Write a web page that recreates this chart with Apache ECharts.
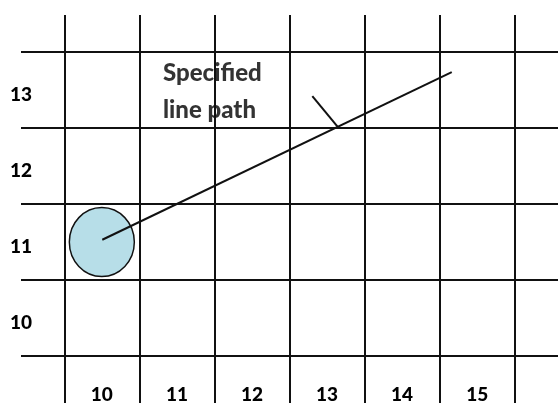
<!DOCTYPE html>
<html>
<head>
<meta charset="utf-8">
<script src="https://cdn.jsdelivr.net/npm/echarts@6/dist/echarts.min.js"></script>
<style>
html,body{margin:0;padding:0;background:#fff;}
#chart{width:558px;height:404px;}
</style>
</head>
<body>
<div id="chart"></div>
<script>
// ---- data ----
const xTickLabels = [10, 11, 12, 13, 14, 15];
const yTickLabels = [10, 11, 12, 13];
const gridLinesX = [9.5, 10.5, 11.5, 12.5, 13.5, 14.5, 15.5];
const gridLinesY = [9.5, 10.5, 11.5, 12.5, 13.5];
const circlePoint = [10, 11];
const pathLine = [[10.006, 11.03], [14.661, 13.234]];
const pointerLine = [[12.804, 12.919], [13.137, 12.52]];
const noteText = 'Specified\nline path';
const notePoint = [10.815, 12.97];

const chart = echarts.init(document.getElementById('chart'), null, {renderer: 'canvas'});
const black = '#111';
const font = {fontFamily: 'Lato', fontWeight: 900, color: '#000'};

const option = {
  animation: false,
  backgroundColor: '#fff',
  grid: {left: 21, top: 15, right: 0, bottom: 0, containLabel: false},
  xAxis: {
    type: 'value', min: 8.9232, max: 16.0765,
    axisLine: {show: false}, axisTick: {show: false}, splitLine: {show: false},
    axisLabel: Object.assign({customValues: xTickLabels, inside: true, margin: 0, verticalAlign: 'bottom', lineHeight: 17, fontSize: 19}, font)
  },
  yAxis: {
    type: 'value', min: 8.8836, max: 13.9852,
    axisLine: {show: false}, axisTick: {show: false}, splitLine: {show: false},
    axisLabel: Object.assign({customValues: yTickLabels, margin: 0, align: 'center', verticalAlign: 'top', lineHeight: 9, fontSize: 19}, font)
  },
  series: [
    {
      type: 'scatter', z: 1, silent: true,
      data: [notePoint], symbolSize: 0,
      label: Object.assign({show: true, formatter: noteText, position: 'right', distance: 0, align: 'left', verticalAlign: 'middle', fontSize: 24, lineHeight: 37}, font)
    },
    {
      type: 'line', z: 2, silent: true, data: [],
      markLine: {
        silent: true, symbol: 'none', animation: false,
        label: {show: false},
        lineStyle: {color: black, width: 2, type: 'solid'},
        data: gridLinesX.map(v => ({xAxis: v})).concat(gridLinesY.map(v => ({yAxis: v})))
      }
    },
    {
      type: 'scatter', z: 3, silent: true,
      data: [circlePoint], symbol: 'circle', symbolSize: [65, 69],
      itemStyle: {color: '#B7DEE8', borderColor: black, borderWidth: 1.5, opacity: 1}
    },
    {
      type: 'line', z: 4, silent: true, data: pathLine, symbol: 'none',
      lineStyle: {color: black, width: 2}
    },
    {
      type: 'line', z: 4, silent: true, data: pointerLine, symbol: 'none',
      lineStyle: {color: black, width: 2}
    }
  ]
};
chart.setOption(option);
</script>
</body>
</html>
